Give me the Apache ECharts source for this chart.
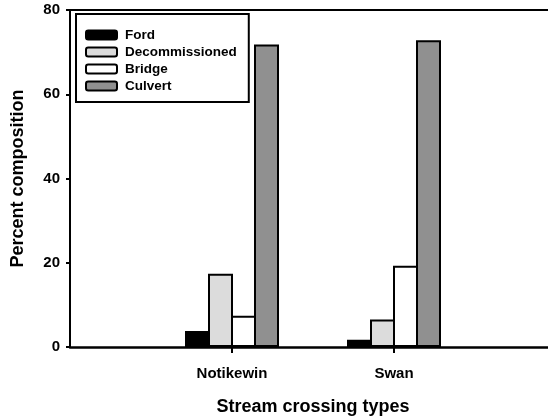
<!DOCTYPE html>
<html>
<head>
<meta charset="utf-8">
<title>Stream crossing types</title>
<script src="https://cdn.jsdelivr.net/npm/echarts@6/dist/echarts.min.js"></script>
<style>
  html, body { margin: 0; padding: 0; background: #fff; }
  #chart { width: 548px; height: 416px; }
</style>
</head>
<body>
<div id="chart"></div>
<script>
// empty categories at both ends keep the two groups at 1/3 and 2/3 of the axis
var categories = ['', 'Notikewin', 'Swan', ''];
var ford = [null, 3.8, 1.7, null];
var decommissioned = [null, 17.4, 6.5, null];
var bridge = [null, 7.4, 19.3, null];
var culvert = [null, 71.8, 72.8, null];
var yTicks = [0, 20, 40, 60, 80];

var font = 'Liberation Sans, Arial, sans-serif';

function barSeries(name, data, color) {
    return {
        name: name,
        type: 'bar',
        data: data,
        barWidth: 25,
        barGap: '-8%',
        itemStyle: { color: color, borderColor: '#000', borderWidth: 2 }
    };
}

var myChart = echarts.init(document.getElementById('chart'));

var option = {
    animation: false,
    textStyle: { fontFamily: font },
    grid: { left: 70, top: 10, width: 486, height: 337, outerBoundsMode: 'none', containLabel: false },
    legend: {
        orient: 'vertical',
        left: 76,
        top: 14,
        padding: [14, 12, 9, 9],
        borderColor: '#000',
        borderWidth: 2,
        itemWidth: 31,
        itemHeight: 9,
        itemGap: 3,
        textStyle: {
            fontSize: 13.5, fontWeight: 'bold', color: '#000', fontFamily: font,
            lineHeight: 14, padding: [0, 0, 0, 3]
        },
        data: ['Ford', 'Decommissioned', 'Bridge', 'Culvert']
    },
    xAxis: [{
        type: 'category',
        data: categories,
        boundaryGap: false,
        name: 'Stream crossing types',
        nameLocation: 'middle',
        nameGap: 51,
        nameTextStyle: { fontSize: 18, fontWeight: 'bold', color: '#000', fontFamily: font },
        axisLine: { lineStyle: { color: '#000', width: 2.5 } },
        axisTick: {
            length: 6,
            lineStyle: { color: '#000', width: 2 },
            interval: function (index, value) { return value !== ''; }
        },
        axisLabel: { interval: 0, margin: 19, fontSize: 15, fontWeight: 'bold', color: '#000', fontFamily: font },
        splitLine: { show: false }
    }, {
        // top frame line
        type: 'category',
        data: categories,
        boundaryGap: false,
        position: 'top',
        axisLine: { lineStyle: { color: '#000', width: 2 } },
        axisTick: { show: false },
        axisLabel: { show: false },
        splitLine: { show: false }
    }],
    yAxis: {
        type: 'value',
        min: yTicks[0],
        max: yTicks[yTicks.length - 1],
        interval: 20,
        name: 'Percent composition',
        nameLocation: 'middle',
        nameGap: 43,
        nameTextStyle: { fontSize: 18, fontWeight: 'bold', color: '#000', fontFamily: font },
        axisLine: { show: true, lineStyle: { color: '#000', width: 2 } },
        axisTick: { show: true, length: 4, lineStyle: { color: '#000', width: 2 } },
        axisLabel: { margin: 10, fontSize: 15, fontWeight: 'bold', color: '#000', fontFamily: font },
        splitLine: { show: false }
    },
    series: [
        barSeries('Ford', ford, '#000000'),
        barSeries('Decommissioned', decommissioned, '#dcdcdc'),
        barSeries('Bridge', bridge, '#ffffff'),
        barSeries('Culvert', culvert, '#909090')
    ]
};

myChart.setOption(option);
</script>
</body>
</html>
